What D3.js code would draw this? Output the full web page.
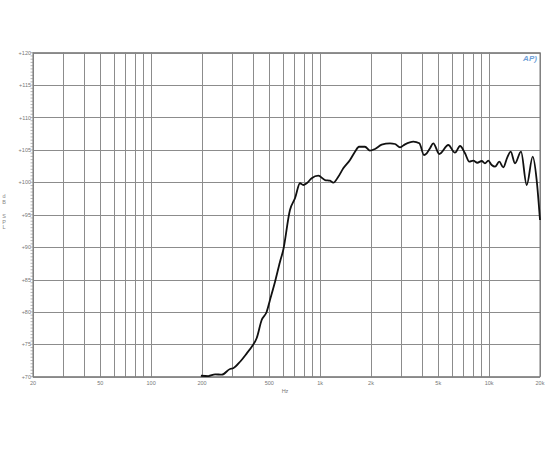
<!DOCTYPE html>
<html><head><meta charset="utf-8">
<script src="https://cdn.jsdelivr.net/npm/d3@7"></script>
<style>body{margin:0;background:#fff}svg{display:block}</style>
</head><body><svg id="c" width="550" height="450"></svg>
<script>
const freqHz = [197,218,239,262,293,306,336,368,394,421,451,483,505,541,579,605,663,710,760,795,833,891,975,1069,1144,1196,1281,1371,1502,1608,1698,1842,1972,2111,2314,2591,2774,2970,3179,3560,3864,4118,4272,4468,4674,5072,5734,6281,6726,7200,7632,8061,8513,9038,9452,9888,10354,10836,11486,12132,12812,13419,14224,15441,16683,18112,19112,20000];
const splDb = [70.15,70.1,70.37,70.31,71.19,71.3,72.31,73.6,74.63,75.93,78.75,80.03,81.84,84.66,87.75,89.55,95.73,97.53,99.85,99.58,99.85,100.62,101.02,100.35,100.25,99.94,100.86,102.16,103.44,104.72,105.49,105.49,104.88,105.14,105.8,106.02,105.91,105.4,105.86,106.27,106.02,104.21,104.48,105.25,106.02,104.37,105.76,104.57,105.6,104.48,103.18,103.33,103.02,103.29,102.93,103.33,102.67,102.41,103.18,102.31,103.86,104.72,102.93,104.72,99.58,103.95,100.35,94.18];
const xTickValues = [20,50,100,200,500,1000,2000,5000,10000,20000];
const xTickLabels = ["20","50","100","200","500","1k","2k","5k","10k","20k"];
const yTickValues = [70,75,80,85,90,95,100,105,110,115,120];
const yTickLabels = ["+70","+75","+80","+85","+90","+95","+100","+105","+110","+115","+120"];

const svg = d3.select("#c");
const x = d3.scaleLog().domain([20,20000]).range([33,540]);
const y = d3.scaleLinear().domain([70,120]).range([376.7,52.7]);
const gridColor = "#8c8c8c";

// vertical grid lines at 1..9 x decade
const vLines = [];
[10,100,1000,10000].forEach(d=>{for(let k=1;k<10;k++){const v=d*k; if(v>=20&&v<=20000) vLines.push(v);}});
svg.append("g").selectAll("line").data(vLines).join("line")
  .attr("x1",d=>Math.round(x(d))+0.5).attr("x2",d=>Math.round(x(d))+0.5)
  .attr("y1",y(120)).attr("y2",y(70))
  .attr("stroke",gridColor).attr("stroke-width",1);
svg.append("g").selectAll("line").data(yTickValues).join("line")
  .attr("x1",x(20)).attr("x2",x(20000))
  .attr("y1",d=>Math.round(y(d))+0.5).attr("y2",d=>Math.round(y(d))+0.5)
  .attr("stroke",gridColor).attr("stroke-width",1);
// border
svg.append("rect").attr("x",x(20)).attr("y",y(120)).attr("width",x(20000)-x(20)).attr("height",y(70)-y(120))
  .attr("fill","none").attr("stroke","#777").attr("stroke-width",1);

// minor y ticks every 0.5 dB
const minor = d3.range(70,120.01,0.5);
svg.append("g").selectAll("line").data(minor).join("line")
  .attr("x1",x(20)-2.5).attr("x2",x(20))
  .attr("y1",d=>y(d)).attr("y2",d=>y(d))
  .attr("stroke","#888").attr("stroke-width",0.6);

// y labels
svg.append("g").selectAll("text").data(yTickValues).join("text")
  .attr("x",x(20)-2).attr("y",d=>y(d)+2).attr("text-anchor","end")
  .attr("font-family","Arial, Liberation Sans, sans-serif").attr("font-size",5.5).attr("fill","#777")
  .text((d,i)=>yTickLabels[i]);
// x labels
svg.append("g").selectAll("text").data(xTickValues).join("text")
  .attr("x",d=>x(d)).attr("y",y(70)+8).attr("text-anchor","middle")
  .attr("font-family","Arial, Liberation Sans, sans-serif").attr("font-size",5.5).attr("fill","#777")
  .text((d,i)=>xTickLabels[i]);
svg.append("text").attr("x",285).attr("y",393).attr("text-anchor","middle")
  .attr("font-family","Arial, Liberation Sans, sans-serif").attr("font-size",5.5).attr("fill","#777").text("Hz");
// y axis title stacked
const yl = [["d",198],["B",204],["S",218],["P",223.5],["L",229]];
svg.append("g").selectAll("text").data(yl).join("text")
  .attr("x",4).attr("y",d=>d[1]).attr("text-anchor","middle")
  .attr("font-family","Arial, Liberation Sans, sans-serif").attr("font-size",5.5).attr("fill","#888")
  .text(d=>d[0]);

// logo
svg.append("text").attr("x",530).attr("y",61).attr("text-anchor","middle")
  .attr("font-family","Arial, Liberation Sans, sans-serif").attr("font-size",8).attr("font-style","italic").attr("font-weight","bold")
  .attr("fill","#6f9fd8").text("AP)");

// curve
const data = freqHz.map((f,i)=>[f,splDb[i]]);
svg.append("path").datum(data)
  .attr("d",d3.line().x(d=>x(d[0])).y(d=>y(d[1])).curve(d3.curveMonotoneX))
  .attr("fill","none").attr("stroke","#111").attr("stroke-width",1.8).attr("stroke-linejoin","round");
</script></body></html>
